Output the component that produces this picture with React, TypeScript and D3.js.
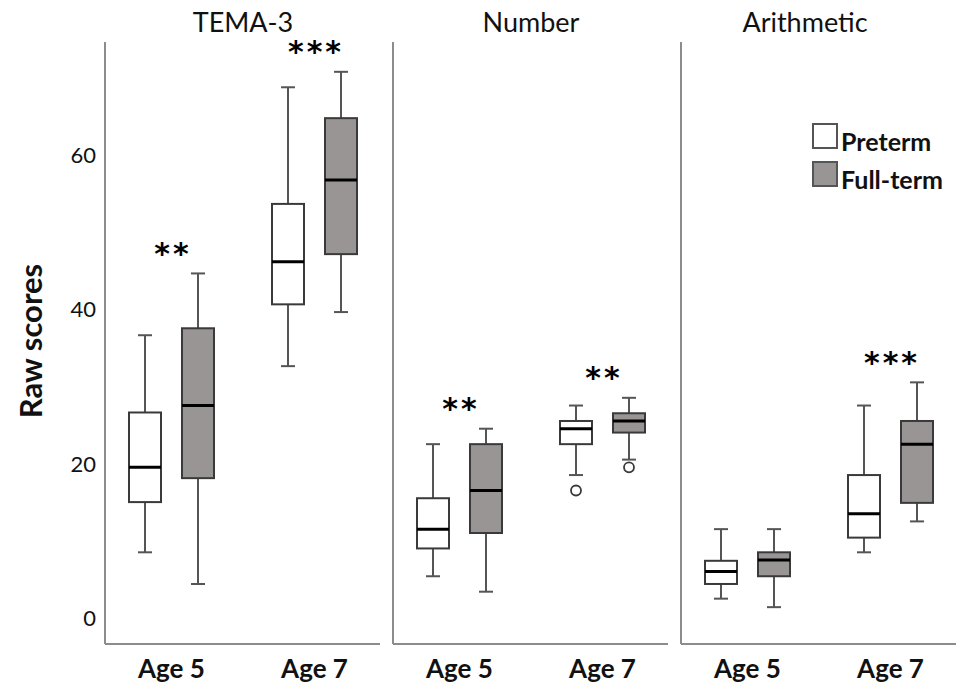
import React, { useEffect, useRef } from "react";
import * as d3 from "d3";

const panelNames = ["TEMA-3", "Number", "Arithmetic"];
const ages = ["Age 5", "Age 7"];
const groups = ["Preterm", "Full-term"];

// [lower whisker, q1, median, q3, upper whisker] per age, per group
const temaStats = [
  [[8.5, 15.0, 19.5, 26.6, 36.6], [4.4, 18.1, 27.5, 37.5, 44.6]],
  [[32.6, 40.6, 46.1, 53.6, 68.7], [39.6, 47.1, 56.7, 64.7, 70.7]],
];
const numberStats = [
  [[5.4, 9.0, 11.5, 15.5, 22.5], [3.4, 11.0, 16.5, 22.5, 24.5]],
  [[18.5, 22.5, 24.5, 25.5, 27.5], [20.5, 24.0, 25.5, 26.5, 28.5]],
];
const arithmeticStats = [
  [[2.5, 4.4, 6.0, 7.4, 11.5], [1.4, 5.4, 7.5, 8.5, 11.5]],
  [[8.5, 10.4, 13.5, 18.5, 27.5], [12.5, 14.9, 22.5, 25.5, 30.5]],
];
const allStats = [temaStats, numberStats, arithmeticStats];

// outliers: [panel, age, group, value]
const outliers = [
  [1, 1, 0, 16.5],
  [1, 1, 1, 19.5],
];

// significance marks per panel and age
const temaStars = ["**", "***"];
const numberStars = ["**", "**"];
const arithmeticStars = ["", "***"];
const allStars = [temaStars, numberStars, arithmeticStars];

const yTicks = [0, 20, 40, 60];

const FONT = "Lato, 'Open Sans', sans-serif";
const FILLS = ["#ffffff", "#999595"];
const AXIS = "#8c8c8c";

const width = 956;
const height = 690;
const top = 42;
const bottom = 644;
const panelLeft = 105;
const panelW = 276;
const panelGap = 12;

const YAxis = ({ scale, left }) => {
  const ref = useRef(null);
  useEffect(() => {
    const g = d3.select(ref.current);
    g.call(d3.axisLeft(scale).tickValues(yTicks).tickSize(0).tickPadding(0));
    g.select(".domain").remove();
    g.selectAll("text")
      .attr("font-family", FONT)
      .attr("font-size", 22)
      .attr("fill", "#111")
      .attr("dy", "0.36em");
  });
  return <g ref={ref} transform={`translate(${left}, 0)`} />;
};

const Box = ({ s, cx, y, fill }) => {
  const bw = 32;
  const cap = 14;
  const [lo, q1, med, q3, hi] = s;
  return (
    <g>
      <line x1={cx} x2={cx} y1={y(hi)} y2={y(q3)} stroke="#555" strokeWidth={2} />
      <line x1={cx} x2={cx} y1={y(q1)} y2={y(lo)} stroke="#555" strokeWidth={2} />
      <line x1={cx - cap / 2} x2={cx + cap / 2} y1={y(hi)} y2={y(hi)} stroke="#555" strokeWidth={2} />
      <line x1={cx - cap / 2} x2={cx + cap / 2} y1={y(lo)} y2={y(lo)} stroke="#555" strokeWidth={2} />
      <rect
        x={cx - bw / 2}
        y={y(q3)}
        width={bw}
        height={y(q1) - y(q3)}
        fill={fill}
        stroke="#3a3a3a"
        strokeWidth={2}
      />
      <line x1={cx - bw / 2} x2={cx + bw / 2} y1={y(med)} y2={y(med)} stroke="#000" strokeWidth={3} />
    </g>
  );
};

const App = () => {
  const y = d3.scaleLinear().domain([-3.37, 74.56]).range([bottom, top]);
  const x = d3.scalePoint().domain(ages).range([0, panelW]).padding(0.465);
  const inner = d3.scalePoint().domain(groups).range([-26.5, 26.5]);

  return (
    <svg
      width={width}
      height={height}
      style={{ position: "absolute", left: 0, top: 0, background: "#fff" }}
    >
      <YAxis scale={y} left={96} />
      <text
        transform={`translate(30, ${(262 + 420) / 2}) rotate(-90)`}
        textAnchor="middle"
        dominantBaseline="central"
        fontFamily={FONT}
        fontWeight="bold"
        fontSize={31}
        fill="#111"
      >
        Raw scores
      </text>

      {panelNames.map((name, p) => {
        const px = panelLeft + p * (panelW + panelGap);
        return (
          <g key={name} transform={`translate(${px}, 0)`}>
            <text
              x={panelW / 2 - (p === 2 ? 14 : 0)}
              y={32}
              textAnchor="middle"
              fontFamily={FONT}
              fontSize={27}
              fill="#111"
            >
              {name}
            </text>
            <line x1={0} x2={0} y1={top} y2={bottom} stroke={AXIS} strokeWidth={2} />
            <line x1={0} x2={panelW - 1} y1={bottom} y2={bottom} stroke={AXIS} strokeWidth={2} />

            {ages.map((age, a) => {
              const stats = allStats[p][a];
              const star = allStars[p][a];
              const topVal = d3.max(stats, (s) => s[4]);
              return (
                <g key={age}>
                  {groups.map((grp, gi) => (
                    <Box
                      key={grp}
                      s={stats[gi]}
                      cx={x(age) + inner(grp)}
                      y={y}
                      fill={FILLS[gi]}
                    />
                  ))}
                  {star && (
                    <text
                      x={x(age) + 1.5}
                      y={y(topVal) - 25 + 15.5}
                      textAnchor="middle"
                      fontFamily="'DejaVu Sans', sans-serif"
                      fontWeight="bold"
                      fontSize={30}
                      letterSpacing={3}
                      fill="#000"
                    >
                      {star}
                    </text>
                  )}
                  <text
                    x={x(age)}
                    y={678}
                    textAnchor="middle"
                    fontFamily={FONT}
                    fontWeight="bold"
                    fontSize={26}
                    fill="#111"
                  >
                    {age}
                  </text>
                </g>
              );
            })}

            {outliers
              .filter((o) => o[0] === p)
              .map((o, i) => (
                <circle
                  key={i}
                  cx={x(ages[o[1]]) + inner(groups[o[2]])}
                  cy={y(o[3])}
                  r={5}
                  fill="#fff"
                  stroke="#3a3a3a"
                  strokeWidth={1.8}
                />
              ))}
          </g>
        );
      })}

      <g transform="translate(813, 124)">
        {groups.map((grp, i) => (
          <g key={grp} transform={`translate(0, ${i * 38})`}>
            <rect width={24} height={24} fill={FILLS[i]} stroke="#555" strokeWidth={2} />
            <text x={28} y={27} fontFamily={FONT} fontWeight="bold" fontSize={25} fill="#111">
              {grp}
            </text>
          </g>
        ))}
      </g>
    </svg>
  );
};

export default App;
